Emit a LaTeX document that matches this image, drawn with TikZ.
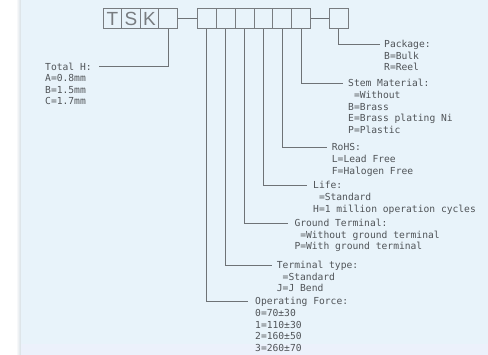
\documentclass[tikz,border=0pt]{standalone}
\usepackage{fontspec}
\setmainfont{DejaVu Sans Mono}
\newfontfamily\boxfont{Liberation Sans}
\definecolor{bgblue}{RGB}{232,243,250}
\definecolor{bgband}{RGB}{236,241,251}
\definecolor{shadowgray}{RGB}{214,222,228}
\definecolor{boxgray}{RGB}{120,124,128}
\definecolor{linegray}{RGB}{110,114,118}
\definecolor{txtgray}{RGB}{80,84,88}
\newcommand\lbltab[1]{\begin{tabular}[t]{@{}l@{}}#1\end{tabular}}
\begin{document}
\begin{tikzpicture}[x=1pt,y=-1pt,
  cellA/.style={draw=boxgray, line width=1pt, minimum width=18.5pt, minimum height=20pt, inner sep=0pt, text=boxgray, font=\boxfont\fontsize{19}{19}\selectfont},
  cellB/.style={cellA, minimum width=18.9pt},
  leader/.style={draw=linegray, line width=0.9pt},
  lbl/.style={anchor=base west, inner sep=0pt, text=txtgray, font=\fontsize{9.65}{11.6}\selectfont}]
\useasboundingbox (0,0) rectangle (488,355);
% background
\fill[white] (0,0) rectangle (488,355);
\shade[left color=white, right color=shadowgray] (16,0) rectangle (21,355);
\fill[bgblue] (21,0) rectangle (488,344);
\fill[bgband] (21,344) rectangle (488,355);
% boxes
\node[cellA] (c1) at (112.55,18.7) {T};
\node[cellA] (c2) at (131.05,18.7) {S};
\node[cellA] (c3) at (149.55,18.7) {K};
\node[cellA] (c4) at (168.05,18.7) {};
\node[cellB] (d1) at (206.75,18.7) {};
\node[cellB] (d2) at (225.65,18.7) {};
\node[cellB] (d3) at (244.55,18.7) {};
\node[cellB] (d4) at (263.45,18.7) {};
\node[cellB] (d5) at (282.35,18.7) {};
\node[cellB] (d6) at (301.25,18.7) {};
\node[cellB] (e1) at (338.9,18.7) {};
\draw[leader] (c4.east) -- (d1.west);
\draw[leader] (d6.east) -- (e1.west);
% leader ends
\coordinate (eTH) at (99,66.7);
\coordinate (ePK) at (380,44);
\coordinate (eSM) at (343,83.5);
\coordinate (eRH) at (326.7,147.5);
\coordinate (eLF) at (306.7,185.5);
\coordinate (eGT) at (288.3,223);
\coordinate (eTT) at (271.7,265);
\coordinate (eOF) at (248.3,301.5);
\draw[leader] (c4.south) |- (eTH);
\draw[leader] (e1.south) |- (ePK);
\draw[leader] (d6.south) |- (eSM);
\draw[leader] (d5.south) |- (eRH);
\draw[leader] (d4.south) |- (eLF);
\draw[leader] (d3.south) |- (eGT);
\draw[leader] (d2.south) |- (eTT);
\draw[leader] (d1.south) |- (eOF);
% labels
\node[lbl] (tTH) at (45,70.2) {\lbltab{Total H:\\A=0.8mm\\B=1.5mm\\C=1.7mm}};
\node[lbl] (tPK) at (384,47.5) {\lbltab{Package:\\B=Bulk\\R=Reel}};
\node[lbl] (tSM) at (348,87) {\lbltab{Stem Material:\\\phantom{B}=Without\\B=Brass\\E=Brass plating Ni\\P=Plastic}};
\node[lbl] (tRH) at (331.7,151) {\lbltab{RoHS:\\L=Lead Free\\F=Halogen Free}};
\node[lbl] (tLF) at (313,189) {\lbltab{Life:\\\phantom{H}=Standard\\H=1 million operation cycles}};
\node[lbl] (tGT) at (294.3,226.5) {\lbltab{Ground Terminal:\\\phantom{P}=Without ground terminal\\P=With ground terminal}};
\node[lbl] (tTT) at (276.7,268.5) {\lbltab{Terminal type:\\\phantom{J}=Standard\\J=J Bend}};
\node[lbl] (tOF) at (255,305) {\lbltab{Operating Force:\\0=70±30\\1=110±30\\2=160±50\\3=260±70}};
\end{tikzpicture}
\end{document}
